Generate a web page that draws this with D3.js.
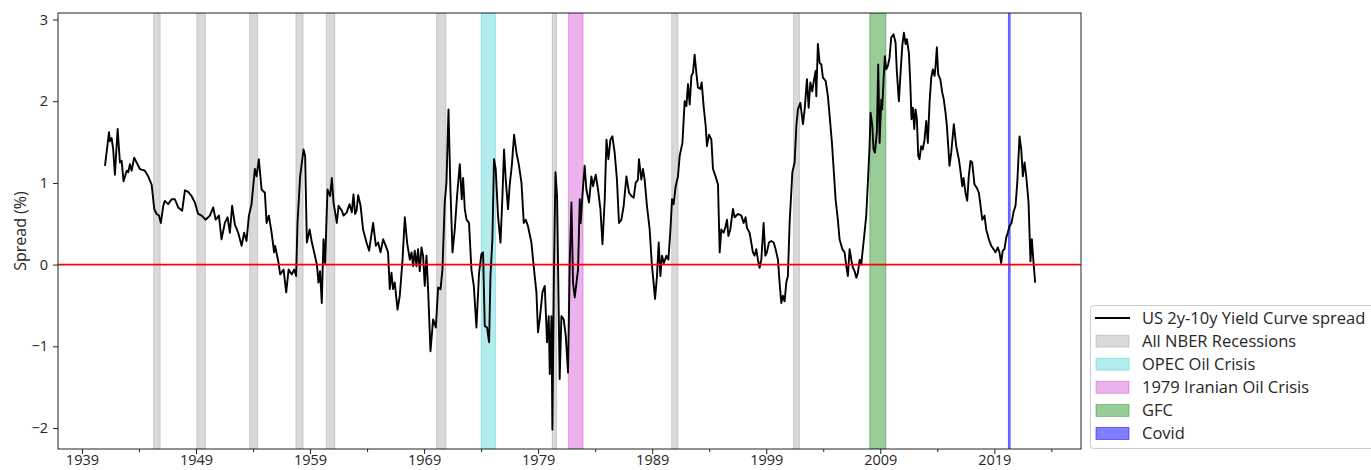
<!DOCTYPE html>
<html>
<head>
<meta charset="utf-8">
<script src="https://cdn.jsdelivr.net/npm/d3@7"></script>
<style>
  html, body { margin: 0; padding: 0; background: #fff; }
  svg { display: block; font-family: "Open Sans", "DejaVu Sans", sans-serif; }
</style>
</head>
<body>
<div id="chart"></div>
<script>
// ---- Data ----
const dates = [
1941.02,1941.37,1941.45,1941.60,1941.74,1941.89,1942.13,1942.33,1942.48,1942.65,1942.92,1943.06,1943.21,1943.36,1943.58,1943.79,1944.08,1944.52,1944.81,1945.11,
1945.34,1945.55,1945.75,1945.92,1946.13,1946.27,1946.56,1946.86,1947.15,1947.44,1947.79,1948.03,1948.32,1948.61,1948.90,1949.19,1949.49,1949.84,1950.22,1950.51,
1950.72,1951.01,1951.24,1951.53,1951.77,1951.97,1952.17,1952.41,1952.70,1953.00,1953.22,1953.43,1953.64,1953.87,1954.16,1954.31,1954.51,1954.75,1955.04,1955.19,
1955.39,1955.63,1955.85,1955.94,1956.24,1956.38,1956.68,1956.91,1957.12,1957.40,1957.61,1957.78,1957.90,1958.13,1958.43,1958.57,1958.72,1958.96,1959.16,1959.36,
1959.60,1959.74,1959.88,1960.03,1960.18,1960.32,1960.53,1960.76,1960.91,1961.06,1961.35,1961.50,1961.79,1961.94,1962.22,1962.46,1962.66,1962.81,1962.95,
1963.08,1963.22,1963.43,1963.65,1963.95,1964.18,1964.53,1964.77,1964.97,1965.18,1965.41,1965.64,1965.84,1965.99,1966.14,1966.28,1966.43,1966.67,1966.87,1967.11,
1967.31,1967.51,1967.75,1967.90,1968.04,1968.18,1968.33,1968.47,1968.62,1968.77,1968.91,1969.06,1969.21,1969.35,1969.56,1969.79,1970.03,1970.23,1970.44,1970.61,
1970.81,1970.96,1971.14,1971.31,1971.49,1971.69,1971.89,1972.13,1972.30,1972.42,1972.57,1972.72,1972.94,1973.15,1973.36,1973.59,1973.82,1974.03,1974.17,1974.32,
1974.52,1974.70,1974.82,1974.99,1975.13,1975.28,1975.48,1975.70,1975.87,1976.01,1976.16,1976.36,1976.51,1976.69,1976.89,1977.10,1977.30,1977.54,1977.74,1977.91,
1978.11,1978.41,1978.64,1978.85,1978.99,1979.14,1979.38,1979.58,1979.78,1979.93,1980.02,1980.17,1980.25,1980.39,1980.52,1980.66,1980.80,1980.89,1981.04,1981.24,
1981.42,1981.62,1981.77,1981.92,1982.06,1982.21,1982.36,1982.50,1982.65,1982.73,1982.88,1983.08,1983.23,1983.46,1983.67,1983.81,1984.05,1984.25,1984.46,1984.64,
1984.84,1984.99,1985.16,1985.34,1985.51,1985.71,1985.91,1986.09,1986.30,1986.50,1986.74,1986.97,1987.18,1987.38,1987.55,1987.75,1987.84,1988.05,1988.19,1988.34,
1988.54,1988.78,1988.96,1989.07,1989.25,1989.42,1989.57,1989.72,1989.86,1990.03,1990.25,1990.42,1990.60,1990.74,1990.88,1991.06,1991.26,1991.41,1991.65,1991.85,
1992.00,1992.14,1992.29,1992.44,1992.58,1992.72,1992.87,1993.01,1993.22,1993.34,1993.51,1993.69,1993.80,1993.98,1994.19,1994.33,1994.56,1994.77,1994.92,1995.06,
1995.27,1995.44,1995.56,1995.68,1995.85,1996.08,1996.23,1996.52,1996.82,1997.02,1997.19,1997.31,1997.54,1997.69,1997.83,1997.98,1998.13,1998.27,1998.42,1998.57,
1998.77,1998.92,1999.06,1999.24,1999.45,1999.65,1999.82,2000.03,2000.17,2000.32,2000.46,2000.61,2000.76,2000.90,2001.05,2001.29,2001.49,2001.64,2001.78,2001.99,
2002.22,2002.37,2002.57,2002.72,2002.87,2003.04,2003.15,2003.33,2003.39,2003.53,2003.68,2003.83,2003.97,2004.21,2004.41,2004.56,2004.76,2004.93,2005.08,2005.28,
2005.43,2005.67,2005.87,2006.02,2006.16,2006.31,2006.46,2006.60,2006.75,2006.90,2007.04,2007.19,2007.33,2007.47,2007.62,2007.77,2007.91,2008.06,2008.15,2008.30,
2008.41,2008.53,2008.70,2008.82,2008.94,2009.09,2009.17,2009.29,2009.40,2009.52,2009.66,2009.81,2009.96,2010.16,2010.34,2010.45,2010.63,2010.78,2010.93,2011.07,
2011.22,2011.33,2011.51,2011.63,2011.74,2011.86,2011.98,2012.09,2012.21,2012.33,2012.44,2012.59,2012.73,2012.88,2013.03,2013.17,2013.32,2013.47,2013.61,2013.76,
2013.85,2013.96,2014.08,2014.26,2014.43,2014.57,2014.72,2014.84,2015.07,2015.22,2015.45,2015.66,2015.89,2016.01,2016.19,2016.30,2016.47,2016.62,2016.76,2016.91,
2017.06,2017.26,2017.47,2017.64,2017.76,2017.94,2018.14,2018.29,2018.52,2018.73,2018.93,2019.10,2019.31,2019.45,2019.60,2019.74,2019.89,2020.04,2020.18,2020.33,
2020.51,2020.68,2020.86,2021.01,2021.21,2021.36,2021.50,2021.65,2021.80,2022.00,2022.17,2022.29,2022.44,2022.58
];
const spread = [
1.21,1.62,1.51,1.55,1.41,1.10,1.66,1.25,1.27,1.02,1.15,1.13,1.23,1.15,1.31,1.25,1.17,1.15,1.08,0.98,
0.68,0.62,0.60,0.51,0.72,0.78,0.74,0.80,0.80,0.70,0.66,0.91,0.89,0.84,0.76,0.62,0.60,0.55,0.60,0.70,
0.55,0.60,0.31,0.51,0.58,0.39,0.72,0.49,0.39,0.23,0.39,0.29,0.60,0.74,1.17,1.08,1.29,0.92,0.88,0.51,
0.60,0.39,0.15,0.23,0.02,-0.12,-0.06,-0.34,-0.06,-0.12,-0.06,-0.14,0.51,1.08,1.41,1.33,0.27,0.43,0.27,0.15,
0.00,-0.22,-0.08,-0.47,0.31,0.02,0.92,0.84,1.06,0.76,0.51,0.72,0.66,0.60,0.64,0.74,0.64,0.86,0.62,
0.66,0.85,0.72,0.43,0.27,0.17,0.51,0.23,0.27,0.15,0.31,0.23,0.15,-0.30,-0.10,-0.30,-0.22,-0.55,-0.38,0.06,
0.58,0.27,0.06,0.15,-0.02,0.17,-0.02,0.19,-0.08,0.21,0.11,-0.26,0.11,-0.30,-1.06,-0.67,-0.77,-0.28,-0.30,-0.06,
0.76,1.00,1.90,0.92,0.15,0.43,0.84,1.23,0.80,1.06,0.68,0.55,0.51,-0.06,-0.26,-0.77,-0.10,0.13,0.15,-0.75,
-0.77,-0.95,-0.14,0.31,1.29,1.17,0.60,0.27,0.84,1.41,1.04,0.68,0.98,1.21,1.59,1.37,1.23,1.00,0.51,0.55,
0.47,0.27,-0.06,-0.34,-0.83,-0.67,-0.34,-0.26,-0.95,-0.63,-1.34,-0.63,-2.02,-0.06,1.13,0.84,-0.55,-1.40,-0.63,-0.67,
-0.87,-1.32,0.02,0.76,-0.22,-0.40,-0.22,-0.06,0.80,0.51,0.84,1.21,0.92,0.76,1.08,0.96,1.10,0.92,0.68,0.25,
0.80,1.53,1.29,1.53,1.57,1.37,1.04,0.51,0.55,0.72,1.08,0.88,0.84,0.82,1.00,1.04,1.29,1.04,1.17,1.04,
0.72,0.43,0.02,-0.14,-0.42,-0.14,0.27,-0.14,0.11,0.02,0.11,0.06,0.43,0.80,0.74,0.96,1.08,1.33,1.49,2.00,
1.94,2.21,1.96,2.31,2.35,2.57,2.35,2.17,2.15,2.23,1.94,1.70,1.45,1.59,1.53,1.17,1.08,0.98,0.15,0.43,
0.39,0.47,0.55,0.35,0.43,0.68,0.58,0.62,0.60,0.51,0.58,0.45,0.39,0.27,0.15,0.11,0.19,0.06,-0.04,0.06,
0.51,0.11,0.15,0.27,0.29,0.27,0.19,0.06,-0.22,-0.47,-0.38,-0.45,-0.22,-0.14,0.51,1.13,1.25,1.70,1.90,1.98,
1.72,1.90,2.27,1.92,2.23,2.12,2.23,2.37,2.06,2.70,2.47,2.45,2.29,2.25,2.06,1.82,1.49,1.13,0.80,0.55,
0.31,0.19,0.15,-0.02,-0.14,0.19,0.06,-0.04,-0.08,-0.16,-0.10,0.06,0.00,0.19,0.39,0.60,1.00,1.45,1.86,1.70,
1.41,1.37,1.62,2.45,1.49,2.02,1.90,2.27,2.55,2.39,2.43,2.53,2.78,2.82,2.72,2.37,2.00,2.35,2.68,2.84,
2.70,2.76,2.59,2.23,1.78,1.92,1.66,1.90,1.78,1.33,1.29,1.45,1.41,1.53,1.76,1.49,1.98,2.29,2.39,2.31,
2.43,2.66,2.33,2.27,2.11,2.02,1.86,1.70,1.21,1.37,1.72,1.45,1.29,1.17,0.96,1.06,0.88,0.78,1.08,1.27,
1.25,0.98,0.94,0.88,0.76,0.55,0.60,0.43,0.31,0.23,0.19,0.15,0.21,0.15,0.02,0.17,0.19,0.33,0.39,0.47,
0.51,0.64,0.72,1.00,1.57,1.41,1.08,1.25,1.08,0.76,0.04,0.31,0.02,-0.22
];

// Shaded periods (start year, end year)
const nberStart = [1945.28, 1949.07, 1953.70, 1957.76, 1960.43, 1970.10, 1980.24, 1990.71, 2001.39];
const nberEnd   = [1945.86, 1949.82, 1954.40, 1958.39, 1961.17, 1970.92, 1980.62, 1991.27, 2001.91];
const opecPeriod = [1974.01, 1975.26];
const iranPeriod = [1981.65, 1982.94];
const gfcPeriod = [2008.08, 2009.49];
const covidPeriod = [2020.24, 2020.39];

const xTickYears = [1939, 1949, 1959, 1969, 1979, 1989, 1999, 2009, 2019];
const xMinorYears = [1944, 1954, 1964, 1974, 1984, 1994, 2004, 2014, 2024];
const yTickValues = [-2, -1, 0, 1, 2, 3];

const legendLabels = ["US 2y-10y Yield Curve spread", "All NBER Recessions", "OPEC Oil Crisis",
  "1979 Iranian Oil Crisis", "GFC", "Covid"];

// ---- Drawing ----
const W = 1371, H = 470;
const plot = { left: 58, right: 1081, top: 13, bottom: 449 };
const textColor = "#262626";

const svg = d3.select("#chart").append("svg").attr("width", W).attr("height", H);
svg.append("rect").attr("width", W).attr("height", H).attr("fill", "#fff");

const x = d3.scaleLinear().domain([1936.9, 2026.6]).range([plot.left, plot.right]);
const y = d3.scaleLinear().domain([-2.257, 3.08]).range([plot.bottom, plot.top]);

const styles = {
  nber:  { color: "#808080", alpha: 0.3 },
  opec:  { color: "#00bfbf", alpha: 0.3 },
  iran:  { color: "#bf00bf", alpha: 0.3 },
  gfc:   { color: "#008000", alpha: 0.4 },
  covid: { color: "#0000ff", alpha: 0.5 }
};

svg.append("clipPath").attr("id", "clip").append("rect")
  .attr("x", plot.left).attr("y", plot.top)
  .attr("width", plot.right - plot.left).attr("height", plot.bottom - plot.top);

const g = svg.append("g").attr("clip-path", "url(#clip)");

function band(s, e, st) {
  g.append("rect")
    .attr("x", x(s)).attr("width", Math.max(0.5, x(e) - x(s)))
    .attr("y", plot.top).attr("height", plot.bottom - plot.top)
    .attr("fill", st.color).attr("fill-opacity", st.alpha)
    .attr("stroke", st.color).attr("stroke-opacity", st.alpha).attr("stroke-width", 1);
}
nberStart.forEach((s, i) => band(s, nberEnd[i], styles.nber));
band(opecPeriod[0], opecPeriod[1], styles.opec);
band(iranPeriod[0], iranPeriod[1], styles.iran);
band(gfcPeriod[0], gfcPeriod[1], styles.gfc);
band(covidPeriod[0], covidPeriod[1], styles.covid);

const line = d3.line().x((d, i) => x(dates[i])).y(d => y(d));
g.append("path").datum(spread)
  .attr("d", line).attr("fill", "none")
  .attr("stroke", "#000").attr("stroke-width", 1.9).attr("stroke-linejoin", "round");

g.append("line")
  .attr("x1", plot.left).attr("x2", plot.right)
  .attr("y1", y(0)).attr("y2", y(0))
  .attr("stroke", "#ff0000").attr("stroke-width", 1.6);

// Axes
const xAxis = svg.append("g").attr("transform", `translate(0,${plot.bottom})`)
  .call(d3.axisBottom(x).tickValues(xTickYears).tickFormat(d3.format("d")).tickSize(5).tickPadding(2));
const xMinor = svg.append("g").attr("transform", `translate(0,${plot.bottom})`)
  .call(d3.axisBottom(x).tickValues(xMinorYears).tickFormat("").tickSize(3));
xMinor.select(".domain").remove();

const yAxis = svg.append("g").attr("transform", `translate(${plot.left},0)`)
  .call(d3.axisLeft(y).tickValues(yTickValues)
    .tickFormat(d => d < 0 ? "\u2212" + Math.abs(d) : String(d)).tickSize(5).tickPadding(5));

[xAxis, yAxis].forEach(a => {
  a.selectAll(".domain").remove();
  a.selectAll("text").attr("fill", textColor).style("font-size", "14.5px")
    .style("font-family", '"Open Sans", sans-serif');
  a.selectAll("line").attr("stroke", "#222");
});
xAxis.selectAll("text").attr("dy", "0.62em");
xMinor.selectAll("line").attr("stroke", "#222");

// frame
svg.append("rect")
  .attr("x", plot.left).attr("y", plot.top)
  .attr("width", plot.right - plot.left).attr("height", plot.bottom - plot.top)
  .attr("fill", "none").attr("stroke", "#222").attr("stroke-width", 1);

// Y label
svg.append("text")
  .attr("transform", `translate(20,${(plot.top + plot.bottom) / 2}) rotate(-90)`)
  .attr("text-anchor", "middle").attr("dy", "0.35em")
  .attr("fill", textColor).style("font-size", "16px")
  .text("Spread (%)");

// Legend
const lg = svg.append("g");
lg.append("rect")
  .attr("x", 1090.5).attr("y", 305.5).attr("width", 320).attr("height", 143).attr("rx", 3)
  .attr("fill", "#fff").attr("fill-opacity", 0.8).attr("stroke", "#cccccc").attr("stroke-width", 1);

const legendStyles = [null, styles.nber, styles.opec, styles.iran, styles.gfc, styles.covid];
legendLabels.forEach((lab, i) => {
  const cy = 318 + i * 23.1;
  if (i === 0) {
    lg.append("line").attr("x1", 1095).attr("x2", 1130).attr("y1", cy).attr("y2", cy)
      .attr("stroke", "#000").attr("stroke-width", 1.9);
  } else {
    const st = legendStyles[i];
    lg.append("rect").attr("x", 1096).attr("y", cy - 6).attr("width", 33).attr("height", 12)
      .attr("fill", st.color).attr("fill-opacity", st.alpha)
      .attr("stroke", st.color).attr("stroke-opacity", st.alpha).attr("stroke-width", 1);
  }
  lg.append("text").attr("x", 1142).attr("y", cy).attr("dy", "0.35em")
    .attr("fill", textColor).style("font-size", "16.5px").text(lab);
});
</script>
</body>
</html>
